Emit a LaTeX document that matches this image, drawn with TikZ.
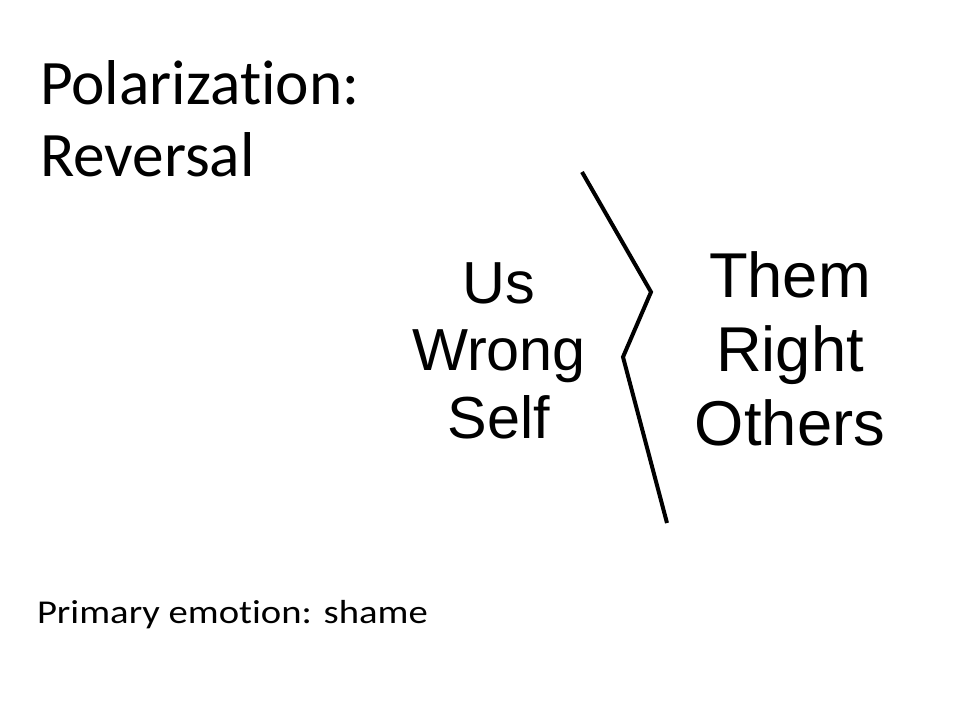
\documentclass[tikz,border=0pt]{standalone}
\usepackage{fontspec}
\setmainfont{Carlito}[Ligatures=NoCommon]
\newfontfamily\widecarlito[FakeStretch=1.16, Ligatures=NoCommon]{Carlito}
\newfontfamily\arialfont{Liberation Sans}
\usetikzlibrary{positioning}

\begin{document}
\begin{tikzpicture}[
  x=0.75pt, y=-0.75pt,
  every node/.style={inner sep=0pt, outer sep=0pt},
  heading/.style={font=\fontsize{47.5}{54}\selectfont, align=left, anchor=base west},
  note/.style={font=\widecarlito\fontsize{25}{30}\selectfont, anchor=base west},
  usside/.style={font=\arialfont\fontsize{44.5}{50.6}\selectfont, align=center, anchor=base},
  themside/.style={font=\arialfont\fontsize{47.5}{55.5}\selectfont, align=center, anchor=base},
  divider/.style={line width=3pt}
]
\useasboundingbox (0,0) rectangle (960,720);

\node[heading] (title) at (40,177) {Polarization:\\Reversal};
\node[note] (emotion) at (37,623) {Primary emotion: shame};

\node[usside] (us) at (499,438) {Us\\Wrong\\Self};
\node[themside] (them) at (790,445) {Them\\Right\\Others};

% zigzag between the two sides
\coordinate (z1) at (582,172);
\coordinate (z2) at (651,292);
\coordinate (z3) at (623,357);
\coordinate (z4) at (667,523);
\draw[divider] (z1) -- (z2) -- (z3) -- (z4);

\end{tikzpicture}
\end{document}
